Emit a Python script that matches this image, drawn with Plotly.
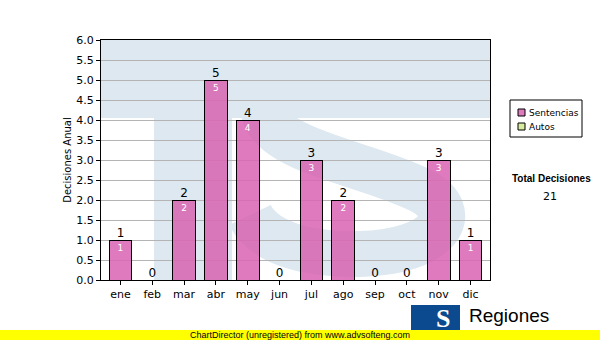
import plotly.graph_objects as go

months = ["ene", "feb", "mar", "abr", "may", "jun", "jul", "ago", "sep", "oct", "nov", "dic"]
sentencias = [1, 0, 2, 5, 4, 0, 3, 2, 0, 0, 3, 1]
autos = [0, 0, 0, 0, 0, 0, 0, 0, 0, 0, 0, 0]
series_names = ["Sentencias", "Autos"]
series_colors = ["rgba(216,100,178,0.86)", "#d8eca0"]
total = sum(sentencias) + sum(autos)
yticks = [i * 0.5 for i in range(13)]

FONT = "DejaVu Sans"
L, R, T, B = 101, 110, 40, 60
W, H = 600, 340
PW, PH = W - L - R, H - T - B


def px(x):
    return (x - L) / PW


def py(y):
    return (H - B - y) / PH


fig = go.Figure()
fig.add_trace(go.Bar(
    x=months, y=sentencias, name=series_names[0],
    marker=dict(color=series_colors[0], line=dict(color="black", width=1)),
    text=[str(v) if v else "" for v in sentencias],
    textposition="inside", insidetextanchor="end",
    textfont=dict(color="white", size=9, family=FONT),
    hoverinfo="skip", showlegend=False,
))
fig.add_trace(go.Bar(
    x=months, y=autos, name=series_names[1],
    marker=dict(color=series_colors[1], line=dict(color="black", width=1)),
    hoverinfo="skip", showlegend=False,
))
fig.add_trace(go.Scatter(
    x=months, y=[s + a for s, a in zip(sentencias, autos)],
    mode="text", text=[str(s + a) for s, a in zip(sentencias, autos)],
    textposition="top center", textfont=dict(color="black", size=12, family=FONT),
    showlegend=False, hoverinfo="skip", cliponaxis=False,
))

wm = "#dde8f1"
shapes = [
    # T watermark
    dict(type="rect", xref="paper", yref="paper", x0=0, x1=1, y0=py(118), y1=1,
         fillcolor=wm, line=dict(width=0), layer="below"),
    dict(type="rect", xref="paper", yref="paper", x0=px(154), x1=px(232), y0=0, y1=py(118),
         fillcolor=wm, line=dict(width=0), layer="below"),
    # S watermark (thick stroke)
    dict(type="path", xref="paper", yref="paper", layer="below",
         path=(f"M {px(440)},{py(100)} C {px(425)},{py(58)} {px(275)},{py(58)} {px(264)},{py(100)} "
               f"C {px(255)},{py(150)} {px(360)},{py(160)} {px(420)},{py(190)} "
               f"C {px(465)},{py(212)} {px(440)},{py(252)} {px(360)},{py(254)} "
               f"C {px(300)},{py(255)} {px(262)},{py(240)} {px(250)},{py(215)}"),
         line=dict(color=wm, width=46)),
    # legend box
    dict(type="rect", xref="paper", yref="paper", x0=px(510), x1=px(582), y0=py(137), y1=py(100),
         fillcolor="white", line=dict(color="black", width=1), layer="above"),
    dict(type="rect", xref="paper", yref="paper", x0=px(518), x1=px(525), y0=py(116), y1=py(109),
         fillcolor=series_colors[0], line=dict(color="black", width=1), layer="above"),
    dict(type="rect", xref="paper", yref="paper", x0=px(518), x1=px(525), y0=py(130), y1=py(123),
         fillcolor=series_colors[1], line=dict(color="black", width=1), layer="above"),
    # logo box
    dict(type="rect", xref="paper", yref="paper", x0=px(411), x1=px(460), y0=py(333), y1=py(305),
         fillcolor="#0c4a8f", line=dict(width=0), layer="above"),
    # bottom yellow band
    dict(type="rect", xref="paper", yref="paper", x0=px(0), x1=px(600), y0=py(340), y1=py(330),
         fillcolor="#ffff00", line=dict(width=0), layer="above"),
]
fig.update_layout(shapes=shapes)

annotations = [
    dict(text=series_names[0], x=px(527), y=py(112.5), xref="paper", yref="paper",
         xanchor="left", yanchor="middle", showarrow=False,
         font=dict(size=9, family=FONT, color="black")),
    dict(text=series_names[1], x=px(527), y=py(126.5), xref="paper", yref="paper",
         xanchor="left", yanchor="middle", showarrow=False,
         font=dict(size=9, family=FONT, color="black")),
    dict(text="<b>Total Decisiones</b>", x=px(551), y=py(178), xref="paper", yref="paper",
         xanchor="center", yanchor="middle",
         showarrow=False, font=dict(size=10, family="Liberation Sans", color="black")),
    dict(text=str(total), x=px(550), y=py(196), xref="paper", yref="paper",
         xanchor="center", yanchor="middle",
         showarrow=False, font=dict(size=11, family=FONT, color="black")),
    dict(text="<b>S</b>", x=px(443), y=py(318), xref="paper", yref="paper",
         xanchor="center", yanchor="middle",
         showarrow=False, font=dict(size=26, family="Liberation Serif", color="white")),
    dict(text="Regiones", x=px(467), y=py(315), xref="paper", yref="paper",
         xanchor="left", yanchor="middle",
         showarrow=False, font=dict(size=19, family="Liberation Sans", color="black")),
    dict(text="ChartDirector (unregistered) from www.advsofteng.com", x=px(300), y=py(335),
         xref="paper", yref="paper", xanchor="center", yanchor="middle", showarrow=False,
         font=dict(size=9, family="Liberation Sans", color="black")),
]

fig.update_layout(
    width=W, height=H,
    margin=dict(l=L, r=R, t=T, b=B, pad=0, autoexpand=False),
    paper_bgcolor="white", plot_bgcolor="white",
    barmode="stack", bargap=0.29,
    font=dict(family=FONT, size=11, color="black"),
    annotations=annotations,
    showlegend=False,
    xaxis=dict(showline=True, linecolor="black", linewidth=1, mirror=True,
               ticks="outside", ticklen=4, tickcolor="black",
               tickfont=dict(size=11, family=FONT), showgrid=False, fixedrange=True),
    yaxis=dict(range=[0, 6], tickvals=yticks, ticktext=[f"{v:.1f}" for v in yticks],
               showline=True, linecolor="black", linewidth=1, mirror=True,
               ticks="outside", ticklen=4, tickcolor="black",
               showgrid=True, gridcolor="#b4b4b4", gridwidth=1,
               tickfont=dict(size=11, family=FONT),
               title=dict(text="Decisiones Anual", font=dict(size=10, family=FONT), standoff=2),
               zeroline=False, fixedrange=True),
)

fig.write_html("out.html")
